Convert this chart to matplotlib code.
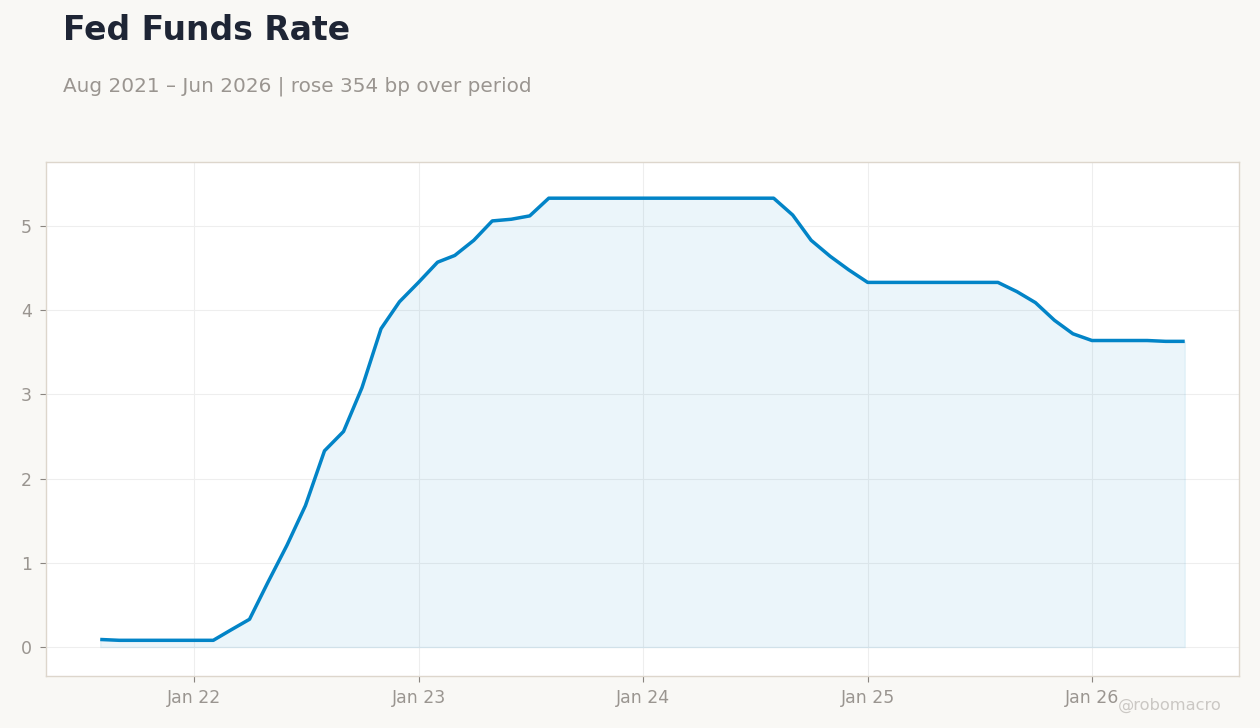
""" Fed Funds Rate chart, monthly effective rate with shaded area.
"""

import numpy as np
import pandas as pd
import matplotlib
matplotlib.use("Agg")
from matplotlib import pyplot as plt
import matplotlib.dates as mdates

# ------------------------------------------------------------------------------
# Data.
# ------------------------------------------------------------------------------

start_month = "2021-08-01"
end_month = "2026-06-01"

rate_2021 = [0.09, 0.08, 0.08, 0.08, 0.08]
rate_2022 = [0.08, 0.08, 0.20, 0.33, 0.77, 1.21, 1.68, 2.33, 2.56, 3.08, 3.78, 4.10]
rate_2023 = [4.33, 4.57, 4.65, 4.83, 5.06, 5.08, 5.12, 5.33, 5.33, 5.33, 5.33, 5.33]
rate_2024 = [5.33, 5.33, 5.33, 5.33, 5.33, 5.33, 5.33, 5.33, 5.13, 4.83, 4.64, 4.48]
rate_2025 = [4.33, 4.33, 4.33, 4.33, 4.33, 4.33, 4.33, 4.33, 4.22, 4.09, 3.88, 3.72]
rate_2026 = [3.64, 3.64, 3.64, 3.64, 3.63, 3.63]

title = "Fed Funds Rate"
subtitle = "Aug 2021 \u2013 Jun 2026 | rose 354 bp over period"
credit = "@robomacro"

# ------------------------------------------------------------------------------
# Plot.
# ------------------------------------------------------------------------------

dates = pd.date_range(start_month, end_month, freq="MS")
rates = np.array(rate_2021 + rate_2022 + rate_2023 + rate_2024 + rate_2025 + rate_2026)

line_color = "#0284c7"
grey_text = "#9a9590"

fig = plt.figure(figsize=(12.6, 7.28), dpi=100, facecolor="#f9f8f5")
ax = fig.add_axes([0.0365, 0.0714, 0.9468, 0.7061])
ax.set_facecolor("white")

ax.fill_between(dates, rates, 0, color=line_color, alpha=0.08, linewidth=1.0,
                edgecolor=(0.008, 0.52, 0.78, 0.12))
ax.plot(dates, rates, color=line_color, linewidth=2.5, solid_capstyle="butt")

ax.set_ylim(-0.344, 5.76)
ax.set_yticks([0, 1, 2, 3, 4, 5])
ax.xaxis.set_major_locator(mdates.YearLocator(month=1))
ax.xaxis.set_major_formatter(mdates.DateFormatter("%b %y"))

ax.grid(True, color="#eeeeee", linewidth=0.8)
ax.set_axisbelow(True)

for spine in ax.spines.values():
    spine.set_color("#ddd6cc")
    spine.set_linewidth(1.0)

ax.tick_params(axis="both", colors="#8a8580", labelcolor=grey_text,
               labelsize=12.5, length=4, width=0.8)
ax.tick_params(axis="y", pad=6)
ax.tick_params(axis="x", pad=5)

fig.text(63 / 1260, 1 - 30 / 728, title, fontsize=23.8, fontweight="bold",
         color="#1e2535", va="center", ha="left")
fig.text(63 / 1260, 1 - 86 / 728, subtitle, fontsize=14.4, color=grey_text,
         va="center", ha="left")
fig.text(1222 / 1260, 1 - 705 / 728, credit, fontsize=11.7, color="#cbc8c4",
         va="center", ha="right")

plt.savefig("out.png", dpi=100, facecolor=fig.get_facecolor())
